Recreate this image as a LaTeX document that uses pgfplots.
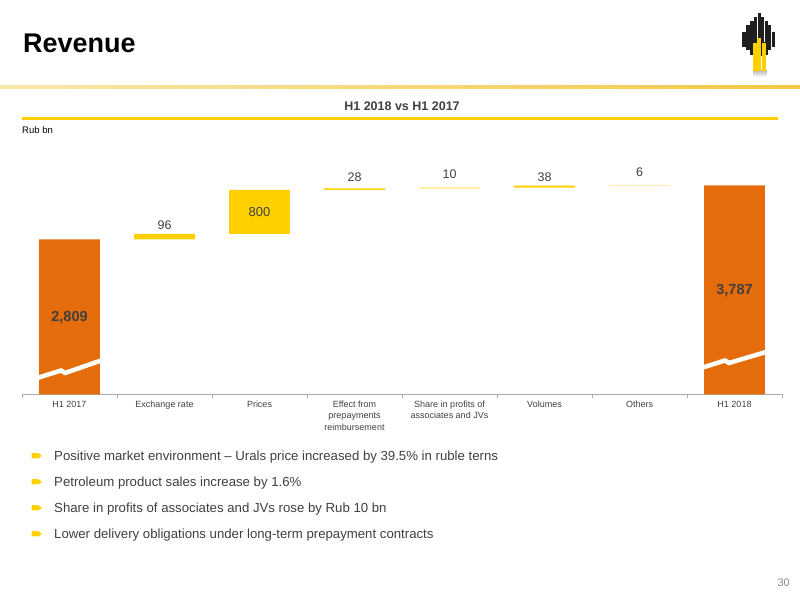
\documentclass[border=0pt]{standalone}
\usepackage{pgfplots}
\pgfplotsset{compat=1.18}
\usepackage{fontspec}
\setmainfont{Liberation Sans}
\definecolor{rnorange}{RGB}{228,108,10}
\definecolor{rnyellow}{RGB}{255,208,0}
\definecolor{txt}{RGB}{64,64,64}
\definecolor{axgray}{RGB}{170,170,170}
\newcommand{\fs}[2]{\fontsize{#1bp}{#2bp}\selectfont}
\begin{document}
\begin{tikzpicture}[x=1bp,y=1bp]
\useasboundingbox (0,0) rectangle (800,600);
\fill[white] (0,0) rectangle (800,600);
\begin{scope}[shift={(0,600)},yscale=-1]
  \node[anchor=base west, inner sep=0, font=\bfseries\fs{27}{30}, text=black] at (23,53) {Revenue};
  \shade[left color={rgb,255:red,250;green,232;blue,170}, right color={rgb,255:red,242;green,200;blue,70}] (0,85.5) rectangle (800,88.5);
  % logo
  \shade[top color=black!25, bottom color=white] (753,71) rectangle (767,77);
  \fill[black!88] (742.4,31.7) rectangle (745.6,46.7);
  \fill[black!88] (746.4,25) rectangle (749.6,50);
  \fill[black!88] (750.4,20.7) rectangle (753.6,55);
  \fill[black!88] (754.1,16.7) rectangle (757.3,56);
  \fill[black!88] (757.6,13) rectangle (760.8,56);
  \fill[black!88] (761.1,16.7) rectangle (764.3,56);
  \fill[black!88] (764.6,20.7) rectangle (767.8,55);
  \fill[black!88] (768.2,25) rectangle (771.4,50);
  \fill[black!88] (772,31.7) rectangle (775.2,46.7);
  \fill[black!88] (750.5,42) rectangle (768,54);
  \fill[rnyellow] (752.8,43) rectangle (756.6,71.5);
  \fill[rnyellow] (757.4,38) rectangle (761.2,71.5);
  \fill[rnyellow] (762,43) rectangle (766,71.5);
  % subtitle
  \node[anchor=base, inner sep=0, font=\bfseries\fs{12.5}{14}, text=txt] at (402,111) {H1 2018 vs H1 2017};
  \fill[rnyellow] (22,117) rectangle (778,120);
  \node[anchor=base west, inner sep=0, font=\fs{9.5}{11}, text=black] at (22,134) {Rub bn};
  \foreach \yy in {461,487,513,539}{
    \fill[rnyellow, rounded corners=0.8] (31.5,\yy-7.8) -- (38.5,\yy-7.8) -- (42,\yy-5.2) -- (38.5,\yy-2.6) -- (31.5,\yy-2.6) -- cycle;
  }
  \node[anchor=base west, inner sep=0, font=\fs{13.2}{15}, text=txt] at (54,461) {Positive market environment -- Urals price increased by 39.5\% in ruble terns};
  \node[anchor=base west, inner sep=0, font=\fs{13.2}{15}, text=txt] at (54,487) {Petroleum product sales increase by 1.6\%};
  \node[anchor=base west, inner sep=0, font=\fs{13.2}{15}, text=txt] at (54,513) {Share in profits of associates and JVs rose by Rub 10 bn};
  \node[anchor=base west, inner sep=0, font=\fs{13.2}{15}, text=txt] at (54,539) {Lower delivery obligations under long-term prepayment contracts};
  \node[anchor=base east, inner sep=0, font=\fs{11}{13}, text=black!45] at (790,587) {30};
\end{scope}

\begin{axis}[
  at={(22bp,205.7bp)}, anchor=south west,
  scale only axis, width=760bp, height=220.75bp,
  xmin=-0.5, xmax=7.5, ymin=0, ymax=4000,
  axis x line*=bottom, axis y line=none,
  x axis line style={-, draw=axgray, line width=0.8bp},
  ybar stacked, bar width=0.64,
  xtick={0,...,7},
  xticklabels={H1 2017, Exchange rate, Prices, {Effect from\\prepayments\\reimbursement}, {Share in profits of\\associates and JVs}, Volumes, Others, H1 2018},
  xticklabel style={align=center, font=\fs{9}{11.5}, text=txt, yshift=-3bp},
  major tick length=0pt,
  minor xtick={-0.5,0.5,...,7.5},
  minor tick length=3.5bp, tick align=outside,
  minor tick style={draw=axgray, line width=0.6bp},
  ytick=\empty,
  clip=false,
]
\addplot[fill=white, draw=none, opacity=0] coordinates {(0,0) (1,2809) (2,2905) (3,3705) (4,3733) (5,3743) (6,3781) (7,0)};
\addplot[fill=rnorange, draw=none] coordinates {(0,2809) (1,0) (2,0) (3,0) (4,0) (5,0) (6,0) (7,3787)};
\addplot[fill=rnyellow, draw=none] coordinates {(0,0) (1,96) (2,800) (3,28) (4,10) (5,38) (6,6) (7,0)};
\coordinate (L1) at (axis cs:1,3068);
\coordinate (L2) at (axis cs:2,3303);
\coordinate (L3) at (axis cs:3,3937);
\coordinate (L4) at (axis cs:4,3992);
\coordinate (L5) at (axis cs:5,3937);
\coordinate (L6) at (axis cs:6,4028);
\coordinate (L0) at (axis cs:0,1383);
\coordinate (L7) at (axis cs:7,1872);
\end{axis}

\begin{scope}[shift={(0,600)},yscale=-1]
  \draw[white, line width=4.5bp] (34,379) -- (61,370.5) -- (65,373) -- (104,359.5);
  \draw[white, line width=4.5bp] (698,369) -- (725,360.5) -- (729,363) -- (766,352);
\end{scope}
\node[font=\fs{12.5}{14}, text=txt, inner sep=0] at (L1) {96};
\node[font=\fs{13}{14}, text=txt, inner sep=0] at (L2) {800};
\node[font=\fs{12.5}{14}, text=txt, inner sep=0] at (L3) {28};
\node[font=\fs{12.5}{14}, text=txt, inner sep=0] at (L4) {10};
\node[font=\fs{12.5}{14}, text=txt, inner sep=0] at (L5) {38};
\node[font=\fs{12.5}{14}, text=txt, inner sep=0] at (L6) {6};
\node[font=\bfseries\fs{14.5}{16}, text=txt, inner sep=0] at (L0) {2,809};
\node[font=\bfseries\fs{14.5}{16}, text=txt, inner sep=0] at (L7) {3,787};
\end{tikzpicture}
\end{document}
